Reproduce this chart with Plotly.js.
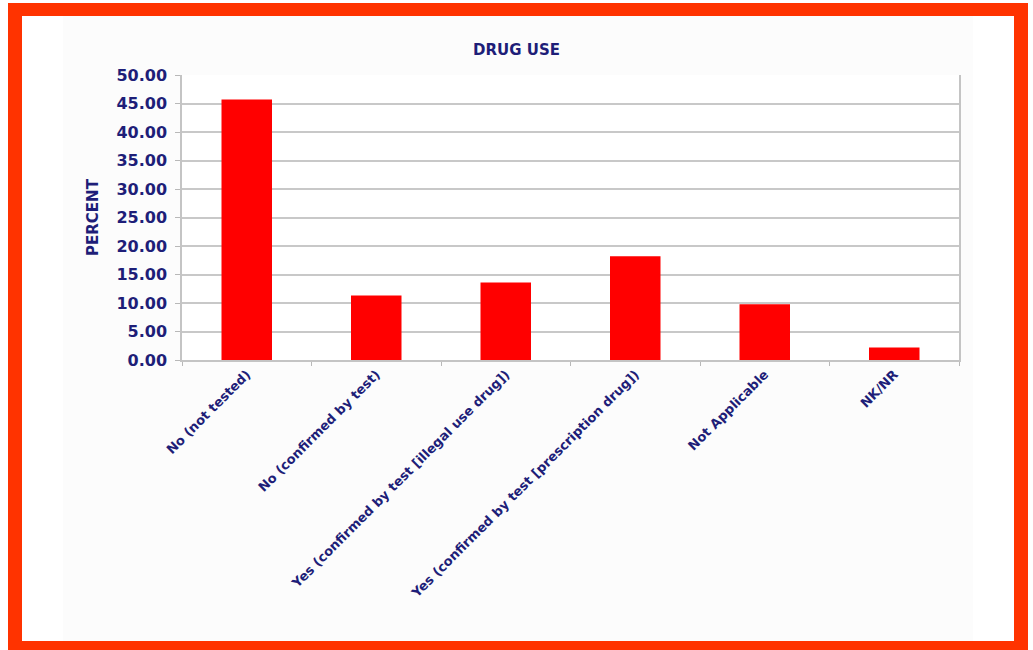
<!DOCTYPE html>
<html>
<head>
<meta charset="utf-8">
<script src="https://cdn.plot.ly/plotly-3.0.1.min.js"></script>
<style>
  html, body { margin: 0; padding: 0; width: 1033px; height: 650px; overflow: hidden; background: #ffffff; }
  #frame { position: absolute; left: 8px; top: 3px; width: 992px; height: 625px; border: 14px solid #ff3300; border-top-width: 13px; box-sizing: content-box; }
  #panel { position: absolute; left: 63px; top: 16px; width: 910px; height: 625px; background: #fcfcfc; }
  #chart { position: absolute; left: 0; top: 0; width: 1033px; height: 650px; }
</style>
</head>
<body>
<div id="frame"></div>
<div id="panel"></div>
<div id="chart"></div>
<script>
const categories = [
  "No (not tested)",
  "No (confirmed by test)",
  "Yes (confirmed by test [illegal use drug])",
  "Yes (confirmed by test [prescription drug])",
  "Not Applicable",
  "NK/NR"
];
const percentValues = [45.7, 11.3, 13.6, 18.2, 9.8, 2.2];
const yTickValues = [0, 5, 10, 15, 20, 25, 30, 35, 40, 45, 50];

const navy = "#1e1e78";
const fontFamily = "DejaVu Sans, Verdana, sans-serif";

const trace = {
  type: "bar",
  x: categories,
  y: percentValues,
  marker: { color: "#ff0000", line: { width: 0 } },
  hoverinfo: "x+y"
};

const layout = {
  width: 1033,
  height: 650,
  margin: { l: 182, r: 74, t: 75, b: 290 },
  paper_bgcolor: "rgba(0,0,0,0)",
  plot_bgcolor: "#ffffff",
  bargap: 0.61,
  showlegend: false,
  title: {
    text: "<b>DRUG USE</b>",
    font: { family: fontFamily, size: 15, color: navy },
    x: 0.5, xanchor: "center",
    y: 1 - 50 / 650, yanchor: "middle"
  },
  xaxis: {
    type: "category",
    tickangle: -45,
    tickson: "boundaries",
    ticks: "outside",
    ticklen: 4,
    tickcolor: "#b8b8b8",
    showline: true,
    linecolor: "#c4c4c4",
    linewidth: 1.5,
    showgrid: false,
    tickfont: { family: fontFamily, size: 13, color: navy, weight: "bold" }
  },
  yaxis: {
    range: [0, 50],
    tickvals: yTickValues,
    ticktext: yTickValues.map(v => v.toFixed(2)),
    ticks: "outside",
    ticklen: 5,
    tickcolor: "#b8b8b8",
    ticklabelstandoff: 5,
    showline: true,
    mirror: true,
    linecolor: "#c4c4c4",
    linewidth: 1.5,
    gridcolor: "#c8c8c8",
    gridwidth: 1.6,
    zeroline: false,
    tickfont: { family: fontFamily, size: 16, color: navy, weight: "bold" },
    title: {
      text: "<b>PERCENT</b>",
      font: { family: fontFamily, size: 15, color: navy },
      standoff: 14
    }
  }
};

Plotly.newPlot("chart", [trace], layout, { displayModeBar: false });
</script>
</body>
</html>
